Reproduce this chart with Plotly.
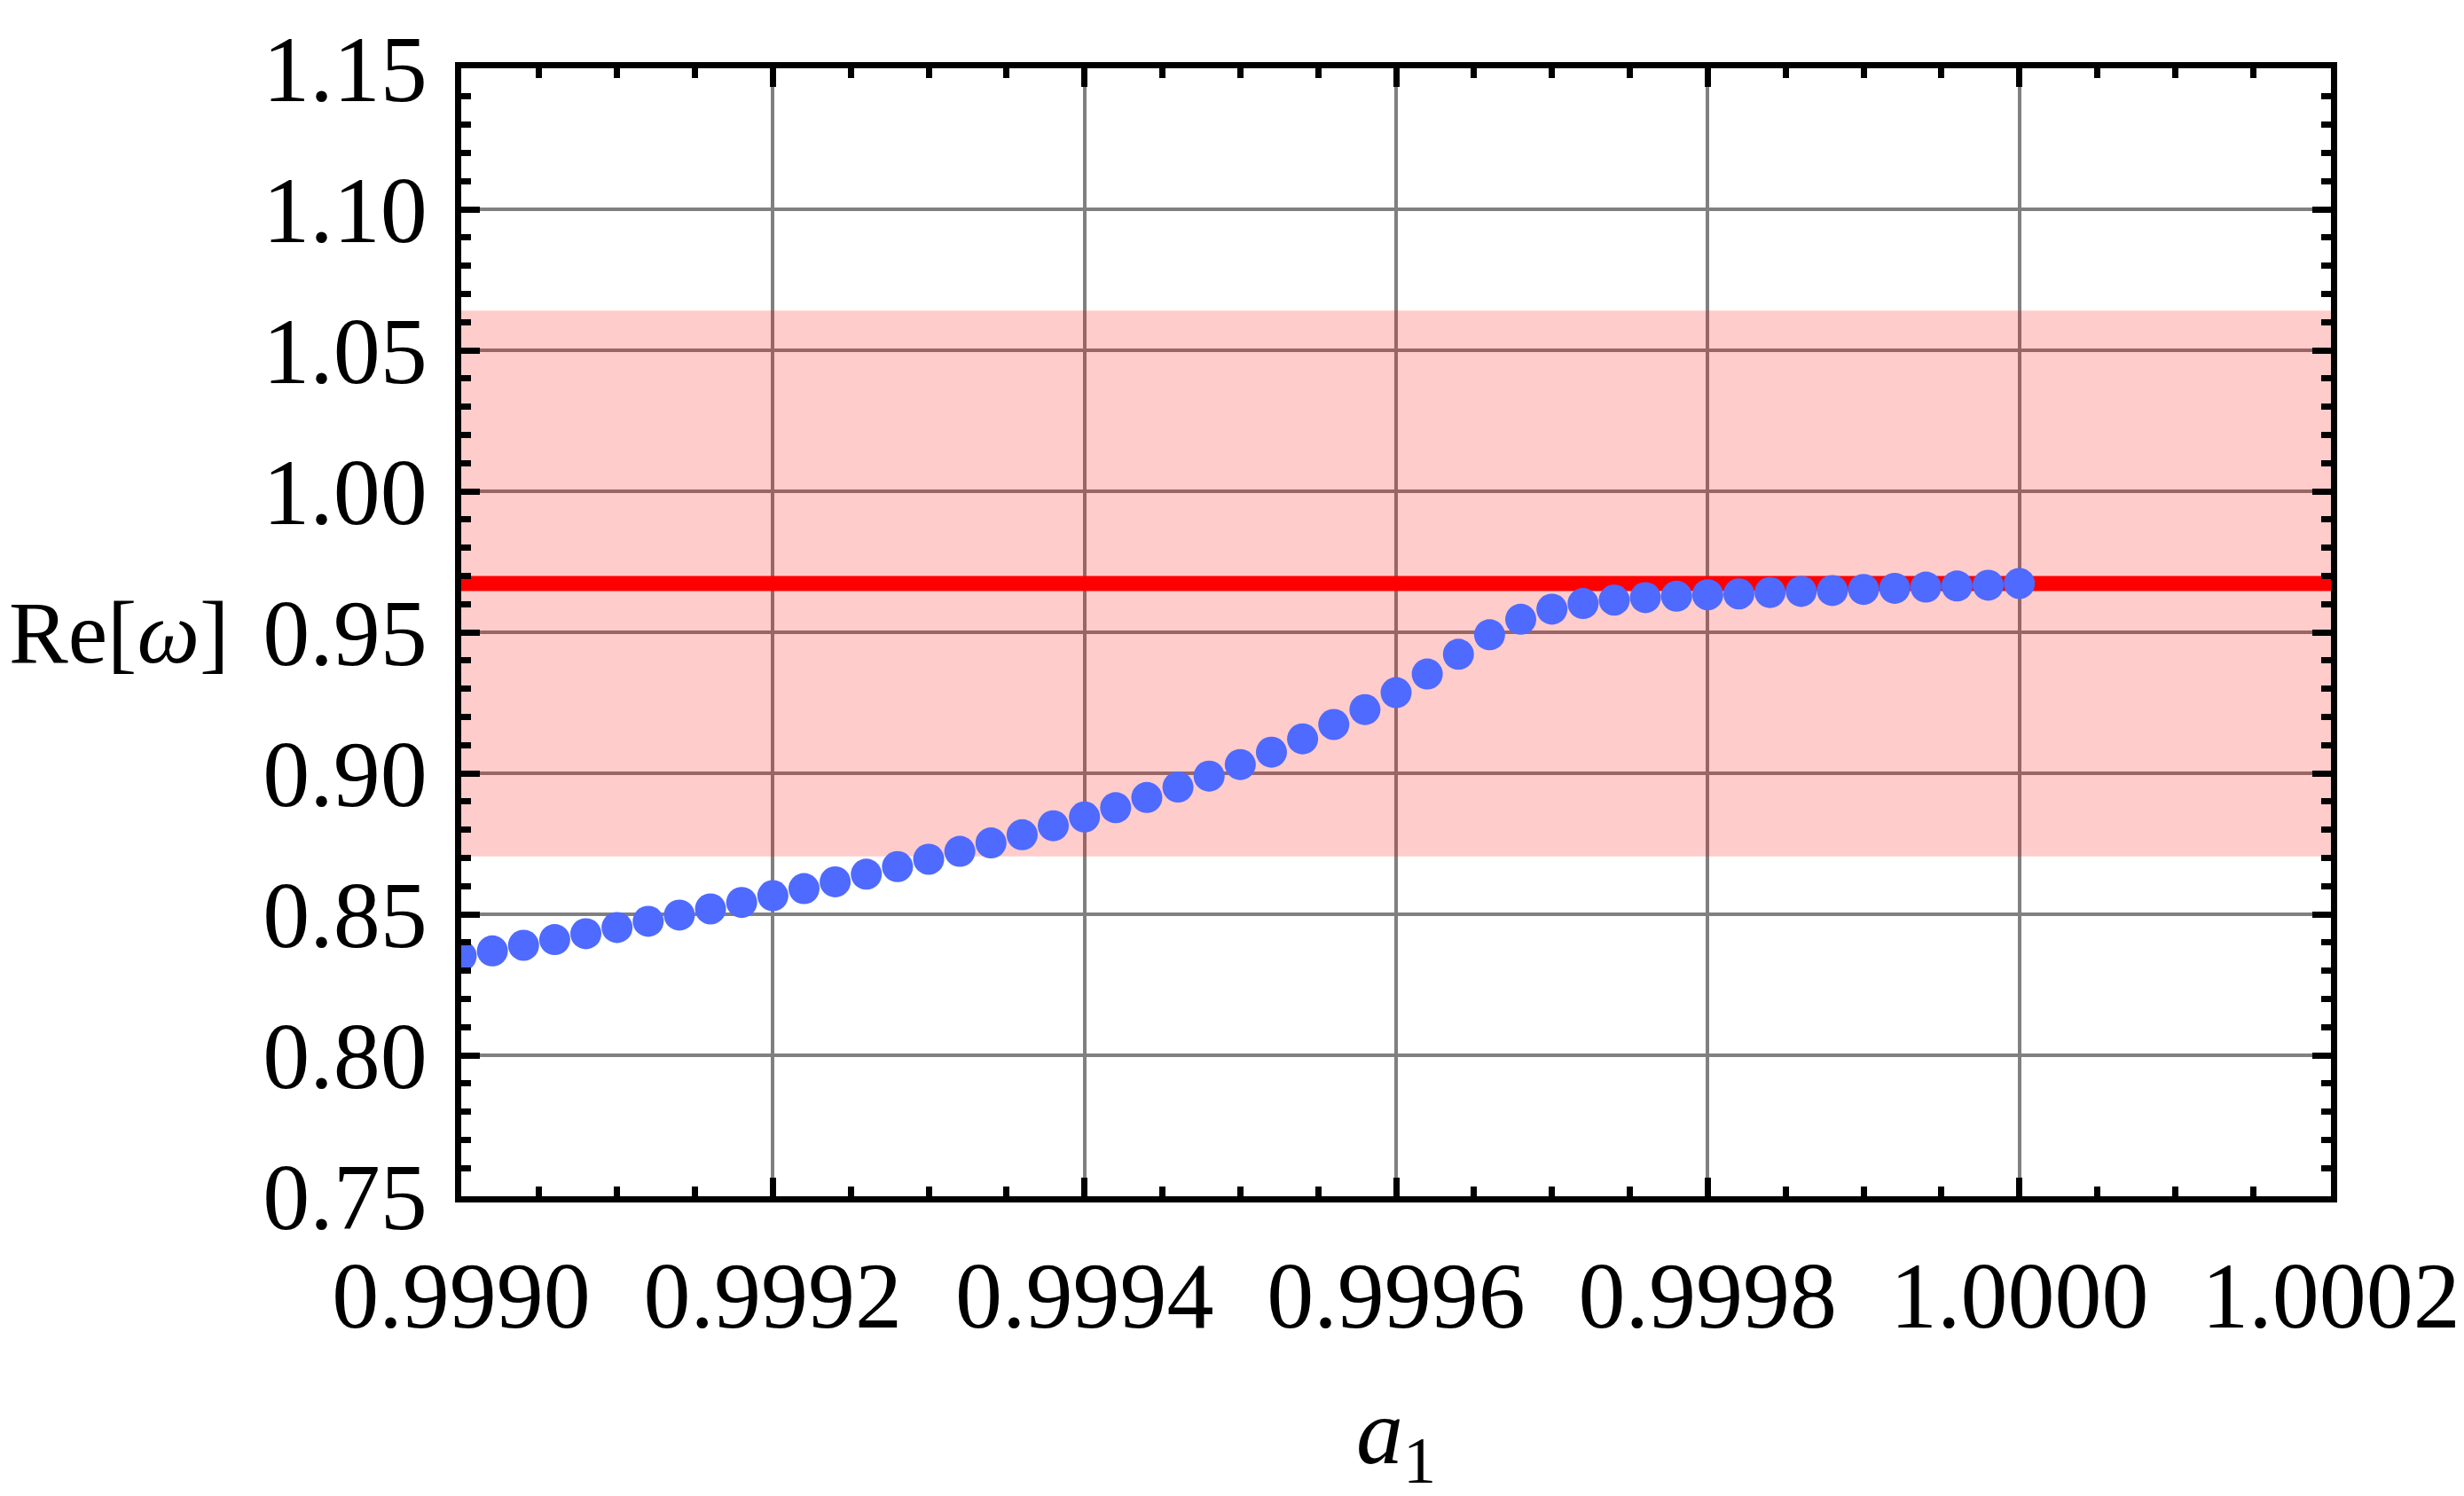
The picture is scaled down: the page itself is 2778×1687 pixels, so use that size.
import plotly.graph_objects as go

# a_1 grid and Re[omega]
a1_values = [
    0.99900, 0.99902, 0.99904, 0.99906, 0.99908, 0.99910, 0.99912, 0.99914, 0.99916, 0.99918,
    0.99920, 0.99922, 0.99924, 0.99926, 0.99928, 0.99930, 0.99932, 0.99934, 0.99936, 0.99938,
    0.99940, 0.99942, 0.99944, 0.99946, 0.99948, 0.99950, 0.99952, 0.99954, 0.99956, 0.99958,
    0.99960, 0.99962, 0.99964, 0.99966, 0.99968, 0.99970, 0.99972, 0.99974, 0.99976, 0.99978,
    0.99980, 0.99982, 0.99984, 0.99986, 0.99988, 0.99990, 0.99992, 0.99994, 0.99996, 0.99998,
    1.00000,
]
re_omega = [
    0.8352, 0.8370, 0.8390, 0.8410, 0.8431, 0.8453, 0.8475, 0.8497, 0.8519, 0.8542,
    0.8566, 0.8591, 0.8615, 0.8642, 0.8669, 0.8695, 0.8723, 0.8753, 0.8782, 0.8814,
    0.8845, 0.8878, 0.8914, 0.8951, 0.8990, 0.9031, 0.9075, 0.9122, 0.9173, 0.9226,
    0.9286, 0.9352, 0.9422, 0.9491, 0.9546, 0.9582, 0.9602, 0.9614, 0.9623, 0.9628,
    0.9633, 0.9636, 0.9641, 0.9645, 0.9648, 0.9652, 0.9656, 0.9660, 0.9664, 0.9667,
    0.9673,
]

ref_value = 0.9673
band_low = 0.8705
band_high = 1.0641

x_range = [0.9990, 1.0002]
y_range = [0.75, 1.15]
x_ticks = [0.9990, 0.9992, 0.9994, 0.9996, 0.9998, 1.0000, 1.0002]
y_ticks = [0.75, 0.80, 0.85, 0.90, 0.95, 1.00, 1.05, 1.10, 1.15]

FONT = "Liberation Serif"
FS = 106
W, H = 2778, 1687
L, R, T, B = 512, 144, 69, 346
PW, PH = W - L - R, H - T - B

fig = go.Figure()

# pink band (semi-transparent, above the grid)
fig.add_trace(go.Scatter(
    x=[x_range[0], x_range[1], x_range[1], x_range[0], x_range[0]],
    y=[band_low, band_low, band_high, band_high, band_low],
    fill="toself",
    fillcolor="rgba(255,0,0,0.2)",
    line=dict(width=0),
    mode="lines",
    hoverinfo="skip",
    showlegend=False,
))

# reference line
fig.add_trace(go.Scatter(
    x=x_range,
    y=[ref_value, ref_value],
    mode="lines",
    line=dict(color="#ff0000", width=17),
    showlegend=False,
))

# data points
fig.add_trace(go.Scatter(
    x=a1_values,
    y=re_omega,
    mode="markers",
    marker=dict(color="#4f6aff", size=35, line=dict(width=0)),
    showlegend=False,
))

axis_common = dict(
    showline=True,
    linecolor="black",
    linewidth=7,
    mirror="allticks",
    ticks="inside",
    ticklen=21,
    tickwidth=7,
    tickcolor="black",
    showgrid=True,
    gridcolor="#808080",
    gridwidth=4,
    zeroline=False,
    ticklabeloverflow="allow",
    tickfont=dict(family=FONT, size=FS, color="black"),
)

fig.update_xaxes(
    range=x_range,
    tickvals=x_ticks,
    tickformat=".4f",
    minor=dict(ticks="inside", ticklen=11, tickwidth=7, tickcolor="black",
               dtick=0.00005, tick0=0.9990, showgrid=False),
    ticklabelstandoff=14,
    **axis_common,
)
fig.update_yaxes(
    range=y_range,
    tickvals=y_ticks,
    tickformat=".2f",
    minor=dict(ticks="inside", ticklen=11, tickwidth=7, tickcolor="black",
               dtick=0.01, tick0=0.75, showgrid=False),
    ticklabelstandoff=10,
    **axis_common,
)

fig.add_annotation(
    text="Re[<i>ω</i>]",
    xref="paper", yref="paper",
    x=-(L - 250) / PW, y=0.5,
    xanchor="right", yanchor="middle",
    showarrow=False,
    font=dict(family=FONT, size=100, color="black"),
)
fig.add_annotation(
    text="<i>a</i><sub>1</sub>",
    xref="paper", yref="paper",
    x=0.5, y=-(1614 - (H - B)) / PH,
    xanchor="center", yanchor="middle",
    showarrow=False,
    font=dict(family=FONT, size=FS, color="black"),
)

fig.update_layout(
    width=W,
    height=H,
    margin=dict(l=L, r=R, t=T, b=B),
    paper_bgcolor="white",
    plot_bgcolor="white",
    showlegend=False,
)

fig.write_html("out.html")
